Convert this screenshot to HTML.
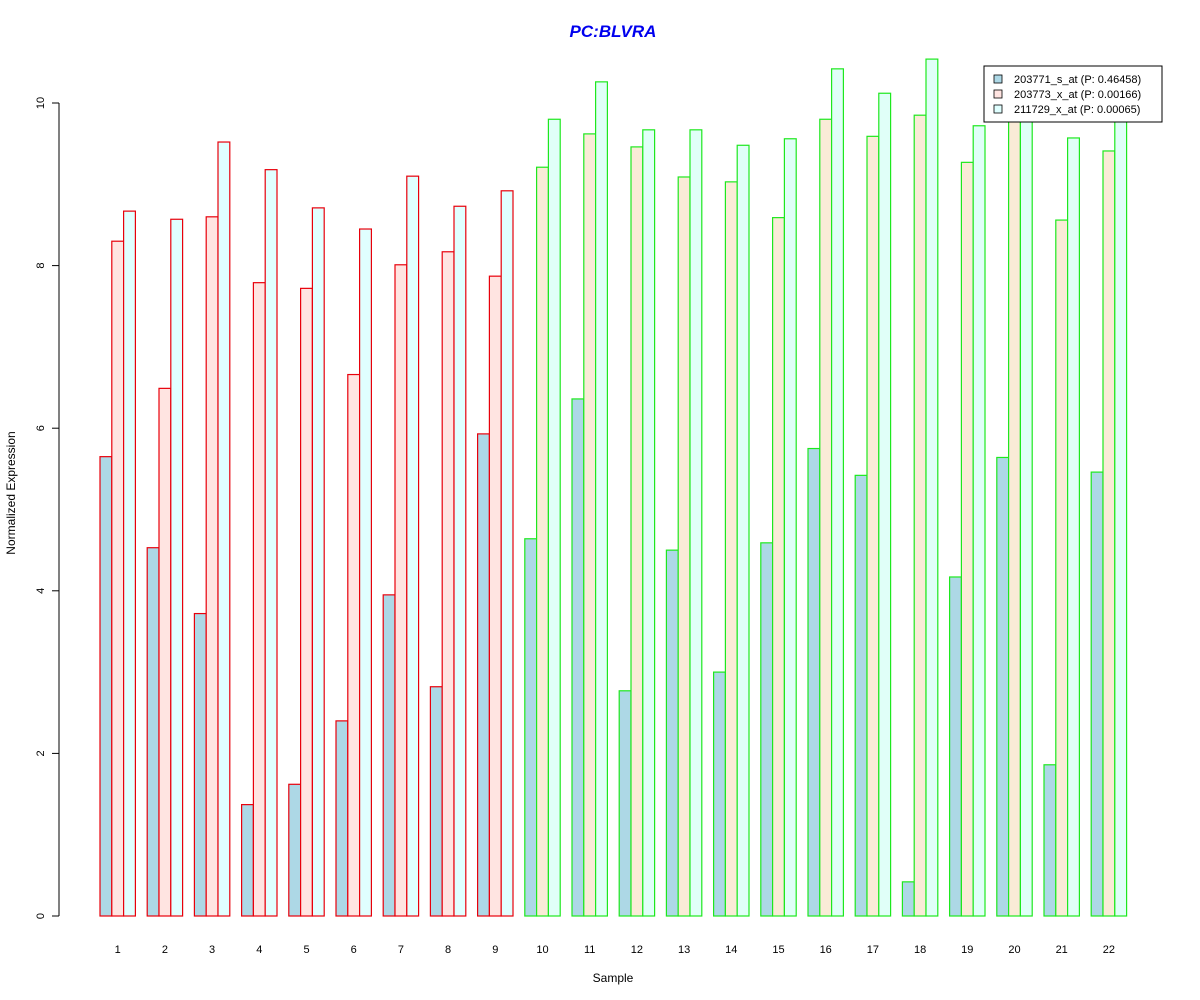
<!DOCTYPE html>
<html><head><meta charset="utf-8"><style>body{margin:0;background:#fff}svg{display:block;font-family:"Liberation Sans",Arial,sans-serif}</style></head>
<body>
<svg id="c" width="1200" height="1000">
<text x="613" y="37" text-anchor="middle" font-size="17" font-weight="bold" font-style="italic" fill="#0000ee">PC:BLVRA</text>
<text x="613" y="982" text-anchor="middle" font-size="12">Sample</text>
<text transform="translate(15,493) rotate(-90)" text-anchor="middle" font-size="12">Normalized Expression</text>
<g id="bars"></g>
<g id="yaxis"></g>
<g id="xlabels"></g>
<g>
<rect x="984" y="66" width="178" height="56" fill="#fff" stroke="#000"/>
<rect x="994" y="75" width="8" height="8" fill="#add8e6" stroke="#000" stroke-width="0.8"/>
<text x="1014" y="83" font-size="11">203771_s_at (P: 0.46458)</text>
<rect x="994" y="90" width="8" height="8" fill="#ffe4e1" stroke="#000" stroke-width="0.8"/>
<text x="1014" y="98" font-size="11">203773_x_at (P: 0.00166)</text>
<rect x="994" y="105" width="8" height="8" fill="#e0ffff" stroke="#000" stroke-width="0.8"/>
<text x="1014" y="113" font-size="11">211729_x_at (P: 0.00065)</text>
</g>
</svg>
<script>
const samples=["1","2","3","4","5","6","7","8","9","10","11","12","13","14","15","16","17","18","19","20","21","22"];
const s1=[5.65,4.53,3.72,1.37,1.62,2.4,3.95,2.82,5.93,4.64,6.36,2.77,4.5,3.0,4.59,5.75,5.42,0.42,4.17,5.64,1.86,5.46];
const s2=[8.3,6.49,8.6,7.79,7.72,6.66,8.01,8.17,7.87,9.21,9.62,9.46,9.09,9.03,8.59,9.8,9.59,9.85,9.27,9.9,8.56,9.41];
const s3=[8.67,8.57,9.52,9.18,8.71,8.45,9.1,8.73,8.92,9.8,10.26,9.67,9.67,9.48,9.56,10.42,10.12,10.54,9.72,9.85,9.57,9.8];
const groupIsRed=[1,1,1,1,1,1,1,1,1,0,0,0,0,0,0,0,0,0,0,0,0,0];
const yTicks=[0,2,4,6,8,10];
const NS="http://www.w3.org/2000/svg";
const y0=916,pu=81.3,bw=11.8,gx0=100,gw=47.2;
const Y=v=>y0-v*pu;
const bars=document.getElementById('bars');
const fillsR=["#add8e6","#ffe4e1","#e0ffff"],fillsG=["#add8e6","#faebd7","#e0fff8"];
[s1,s2,s3].forEach((ser,si)=>{
 ser.forEach((v,i)=>{
  const r=document.createElementNS(NS,'rect');
  
  
  const x=gx0+i*gw+si*bw;
  r.setAttribute('x',x);r.setAttribute('y',Y(v));r.setAttribute('width',bw);r.setAttribute('height',v*pu);
  r.setAttribute('fill',groupIsRed[i]?fillsR[si]:fillsG[si]);
  r.setAttribute('stroke',groupIsRed[i]?'#e8000b':'#1ee81e');
  r.setAttribute('stroke-width','1.2');
  bars.appendChild(r);
 });
});
const xl=document.getElementById('xlabels');
samples.forEach((s,i)=>{
 const t=document.createElementNS(NS,'text');
 
 
 t.setAttribute('x',gx0+i*gw+1.5*bw);t.setAttribute('y',953);t.setAttribute('text-anchor','middle');t.setAttribute('font-size','11');
 t.textContent=s;xl.appendChild(t);
});
const ya=document.getElementById('yaxis');
const ln=document.createElementNS(NS,'line');


ln.setAttribute('x1',59);ln.setAttribute('x2',59);ln.setAttribute('y1',Y(yTicks[0]));ln.setAttribute('y2',Y(yTicks[yTicks.length-1]));ln.setAttribute('stroke','#000');
ya.appendChild(ln);
yTicks.forEach(v=>{
 const tk=document.createElementNS(NS,'line');
 
 
 tk.setAttribute('x1',52);tk.setAttribute('x2',59);tk.setAttribute('y1',Y(v));tk.setAttribute('y2',Y(v));tk.setAttribute('stroke','#000');
 ya.appendChild(tk);
 const t=document.createElementNS(NS,'text');
 
 
 t.setAttribute('transform','translate(44,'+Y(v)+') rotate(-90)');t.setAttribute('text-anchor','middle');t.setAttribute('font-size','11');
 t.textContent=v;ya.appendChild(t);
});
</script>
</body></html>
